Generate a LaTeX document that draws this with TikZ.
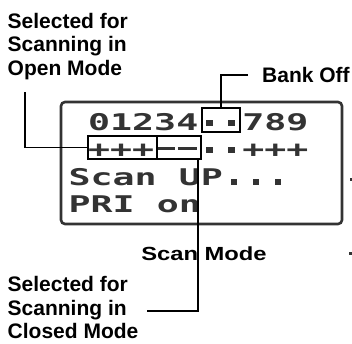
\documentclass[tikz,border=0pt]{standalone}
\usepackage{fontspec}
\setmainfont{Liberation Sans}
\newfontfamily\lcdfont[FakeStretch=1.59]{DejaVu Sans Mono Bold}
\newfontfamily\modefont[FakeStretch=1.25]{Liberation Sans Bold}
\usetikzlibrary{positioning}
\definecolor{lcdgrey}{HTML}{333333}
% one LCD cell is 22pt wide
\newcommand\lcdsq{\makebox[22pt]{\rule[4pt]{6.5pt}{6pt}}}
\newcommand\lcddash{\makebox[22pt]{\rule[7.5pt]{19pt}{2.8pt}}}
\newcommand\lcdpt{\makebox[22pt]{\rule[0.5pt]{6.5pt}{5.5pt}}}

\begin{document}
\begin{tikzpicture}[x=1pt,y=-1pt,
    lbl/.style={font=\fontsize{21}{23.5}\selectfont\bfseries,inner sep=0pt,align=left},
    lcdrow/.style={font=\fontsize{23}{23}\lcdfont,text=lcdgrey,inner sep=0pt,anchor=base west},
    hilite/.style={draw,line width=1.8pt,inner sep=0pt},
    leader/.style={line width=1.8pt}]
  \useasboundingbox (0,0) rectangle (352,343);

  % display
  \node[draw=lcdgrey,line width=2.6pt,rounded corners=4pt,inner sep=0pt,
        minimum width=281pt,minimum height=122pt] (lcd) at (201.5,163) {};
  \node[lcdrow] (row1) at (88,130) {01234\lcdsq\lcdsq789};
  \node[lcdrow] (row2) at (88,157) {+++\lcddash\lcddash\lcdsq\lcdsq+++};
  \node[lcdrow] (row3) at (68.5,185) {Scan UP\lcdpt\lcdpt\lcdpt};
  \node[lcdrow] (row4) at (68.5,212) {PRI on};

  % marked characters
  \node[hilite,minimum width=38pt,minimum height=24pt] (bankbox) at (221,120) {};
  \node[hilite,minimum width=69pt,minimum height=23pt] (openbox) at (122.5,147.5) {};
  \node[hilite,minimum width=44pt,minimum height=23pt] (closedbox) at (179,147.5) {};

  % labels
  \node[lbl,anchor=north west] (openlbl) at (7.5,13) {Selected for\\Scanning in\\Open Mode};
  \node[lbl,anchor=north west] (closedlbl) at (7.5,276.5) {Selected for\\Scanning in\\Closed Mode};
  \coordinate (bankend) at (248,75);
  \node[lbl] (banklbl) [right=14pt of bankend] {Bank Off};
  \node[inner sep=0pt,font=\fontsize{19}{19}\modefont,anchor=base] (modelbl) at (204,260) {Scan Mode};

  % leaders
  \coordinate (openend) at (25,92);
  \coordinate (closedend) at (147,311);
  \draw[leader] (openend) |- (openbox.west);
  \draw[leader] (closedend) -| ([xshift=-4pt]closedbox.south east);
  \draw[leader] (bankend) -| (bankbox.north);

  % cut-off marks at the right edge
  \fill[lcdgrey] (349.5,177.5) rectangle (352,180.5);
  \fill[lcdgrey] (348.5,252) rectangle (352,255);
\end{tikzpicture}
\end{document}
